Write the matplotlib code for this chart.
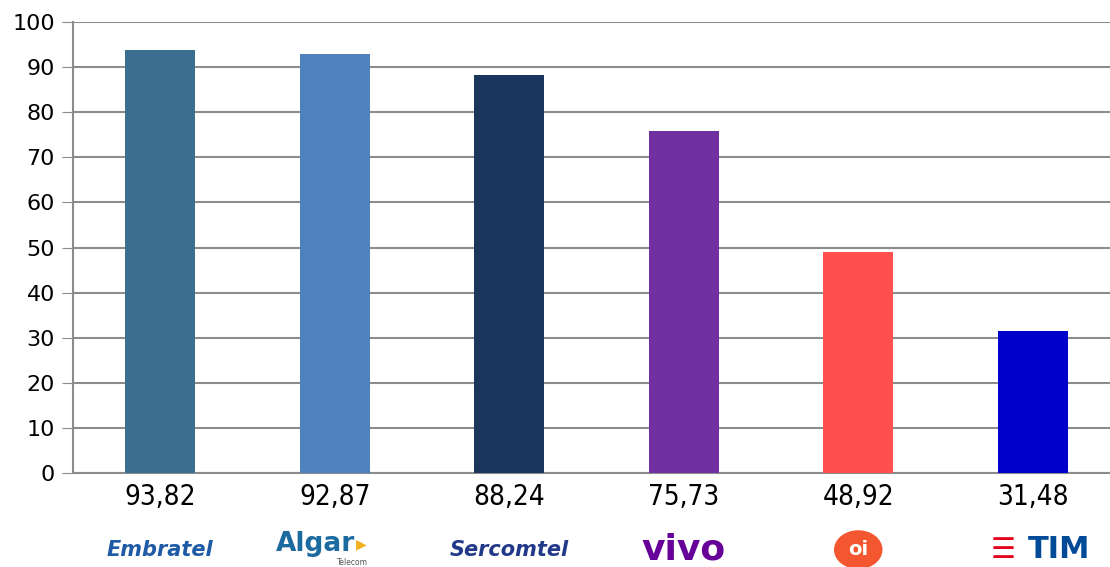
import matplotlib.pyplot as plt
import matplotlib.patches as mpatches

# data
operators = ["Embratel", "Algar", "Sercomtel", "vivo", "oi", "TIM"]
scores = [93.82, 92.87, 88.24, 75.73, 48.92, 31.48]
score_labels = ["93,82", "92,87", "88,24", "75,73", "48,92", "31,48"]
bar_colours = ["#3C6E8F", "#4F81BD", "#1B365D", "#7030A0", "#FF5050", "#0000CC"]
y_ticks = [0, 10, 20, 30, 40, 50, 60, 70, 80, 90, 100]

fig = plt.figure(figsize=(11.1, 5.67), dpi=100)
ax = fig.add_axes([73 / 1110, 1 - 473 / 567, 1047 / 1110, 451 / 567])

x = list(range(len(operators)))
ax.bar(x, scores, width=0.4, color=bar_colours, zorder=3)

ax.set_xlim(-0.5, len(operators) - 0.5)
ax.set_ylim(0, 100)
ax.set_yticks(y_ticks)
ax.set_xticks([])
ax.tick_params(axis="y", labelsize=16, length=8, color="#8C8C8C", pad=5)
ax.yaxis.grid(True, color="#8C8C8C", linewidth=1.5, zorder=0)
for side in ["top", "right"]:
    ax.spines[side].set_visible(False)
ax.spines["left"].set_color("#8C8C8C")
ax.spines["left"].set_linewidth(1.5)
ax.spines["bottom"].set_color("#8C8C8C")
ax.spines["bottom"].set_linewidth(1.5)

# value labels under the axis
for i, lab in enumerate(score_labels):
    ax.text(i, -5.4, lab, ha="center", va="center", fontsize=20,
            fontstretch="condensed", clip_on=False)

# rough text stand-ins for the logos
logo_y = -17.0
ax.text(0, logo_y, "Embratel", ha="center", va="center", fontsize=15,
        fontweight="bold", style="italic", color="#1F5AA6", clip_on=False)
ax.text(0.89, logo_y + 1.2, "Algar", ha="center", va="center", fontsize=19,
        fontweight="bold", color="#1B6AA0", clip_on=False)
ax.text(1.15, logo_y + 1.2, "\u25B6", ha="center", va="center", fontsize=10,
        color="#F2B01E", clip_on=False)
ax.text(1.1, logo_y - 2.9, "Telecom", ha="center", va="center", fontsize=5.5,
        color="#555555", clip_on=False)
ax.text(2, logo_y, "Sercomtel", ha="center", va="center", fontsize=15,
        fontweight="bold", style="italic", color="#22398A", clip_on=False)
ax.text(3, logo_y, "vivo", ha="center", va="center", fontsize=26,
        fontweight="bold", color="#660099", clip_on=False)
blob = mpatches.Ellipse((4, logo_y), 0.27, 8.3, color="#F4572F", clip_on=False,
                        zorder=4)
ax.add_patch(blob)
ax.text(4, logo_y, "oi", ha="center", va="center", fontsize=14,
        fontweight="bold", color="white", clip_on=False, zorder=5)
ax.text(4.83, logo_y, "\u2630", ha="center", va="center", fontsize=20,
        color="#E3001B", clip_on=False)
ax.text(5.15, logo_y, "TIM", ha="center", va="center", fontsize=22,
        fontweight="bold", color="#004A98", clip_on=False)

fig.savefig("out.png", dpi=100)
